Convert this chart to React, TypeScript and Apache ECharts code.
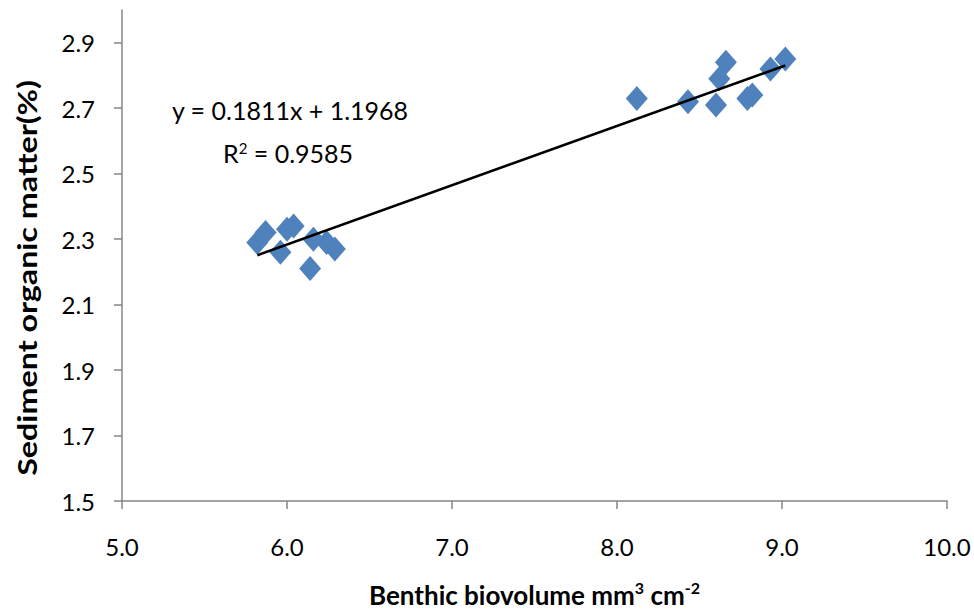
import React, { useEffect, useRef } from "react";
import * as echarts from "echarts";

const biovolume: number[] = [
  5.82, 5.87, 5.96, 6.0, 6.04, 6.14, 6.16, 6.24, 6.29,
  8.12, 8.43, 8.6, 8.62, 8.66, 8.79, 8.82, 8.93, 9.02,
];
const organicMatter: number[] = [
  2.29, 2.32, 2.26, 2.33, 2.34, 2.21, 2.3, 2.29, 2.27,
  2.73, 2.72, 2.71, 2.79, 2.84, 2.73, 2.74, 2.82, 2.85,
];
const yTickValues: number[] = [1.5, 1.7, 1.9, 2.1, 2.3, 2.5, 2.7, 2.9];
const trendSlope = 0.1811;
const trendIntercept = 1.1968;
const equationText = "y = 0.1811x + 1.1968";
const r2Text = "R{sup|2} = 0.9585";
const xTitle = "Benthic biovolume mm{sup|3} cm{sup|-2}";
const yTitle = "Sediment organic matter(%)";

const FONT = "Lato, 'Open Sans', sans-serif";

export default function App() {
  const ref = useRef<HTMLDivElement>(null);
  useEffect(() => {
    if (!ref.current) return;
    const chart = echarts.init(ref.current, undefined, { renderer: "svg" });
    const points = biovolume.map((x, i) => [x, organicMatter[i]]);
    const xMin = Math.min(...biovolume);
    const xMax = Math.max(...biovolume);
    const trend = [
      [xMin, trendSlope * xMin + trendIntercept],
      [xMax, trendSlope * xMax + trendIntercept],
    ];
    const axisColor = "#868686";
    chart.setOption({
      animation: false,
      backgroundColor: "#ffffff",
      grid: { left: 122, right: 27, top: 10, bottom: 113, outerBoundsMode: "none", containLabel: false },
      xAxis: {
        type: "value",
        min: 5,
        max: 10,
        interval: 1,
        axisLine: { show: true, onZero: false, lineStyle: { color: axisColor, width: 1.5 } },
        axisTick: { show: true, inside: false, length: 8, lineStyle: { color: axisColor, width: 1.5 } },
        splitLine: { show: false },
        axisLabel: {
          margin: 33,
          color: "#000",
          fontSize: 24,
          fontFamily: FONT,
          formatter: (v: number) => v.toFixed(1),
        },
        name: xTitle,
        nameLocation: "middle",
        nameGap: 78,
        nameTextStyle: {
          color: "#000",
          fontSize: 26,
          fontWeight: "bold",
          fontFamily: FONT,
          lineHeight: 32,
          rich: {
            sup: {
              fontSize: 16,
              fontWeight: "bold",
              fontFamily: FONT,
              color: "#000",
              verticalAlign: "top",
              lineHeight: 32,
              padding: [0, 0, 12, 0],
            },
          },
        },
      },
      yAxis: {
        type: "value",
        min: 1.5,
        max: 3.0,
        axisLine: { show: true, onZero: false, lineStyle: { color: axisColor, width: 1.5 } },
        axisTick: {
          show: true,
          inside: false,
          length: 8,
          customValues: yTickValues,
          lineStyle: { color: axisColor, width: 1.5 },
        },
        splitLine: { show: false },
        axisLabel: {
          margin: 27,
          color: "#000",
          fontSize: 24,
          fontFamily: FONT,
          customValues: yTickValues,
          formatter: (v: number) => v.toFixed(1),
        },
      },
      graphic: [
        {
          type: "text",
          x: 27,
          y: 278,
          rotation: Math.PI / 2,
          scaleX: 1.24,
          style: {
            text: yTitle,
            fill: "#000",
            font: `bold 26px ${FONT}`,
            textAlign: "center",
            textVerticalAlign: "middle",
          },
        },
        {
          type: "text",
          x: 290,
          y: 110,
          style: {
            text: equationText,
            fill: "#000",
            font: `25px ${FONT}`,
            textAlign: "center",
            textVerticalAlign: "middle",
          },
        },
        {
          type: "text",
          x: 288,
          y: 153,
          style: {
            text: r2Text,
            fill: "#000",
            font: `25px ${FONT}`,
            textAlign: "center",
            textVerticalAlign: "middle",
            rich: {
              sup: {
                fontSize: 15,
                fontFamily: FONT,
                fill: "#000",
                verticalAlign: "top",
                padding: [0, 0, 10, 0],
              },
            },
          },
        },
      ],
      series: [
        {
          type: "scatter",
          data: points,
          symbol: "diamond",
          symbolSize: [22, 25],
          itemStyle: { color: "#4F81BD", opacity: 1 },
          z: 2,
        },
        {
          type: "line",
          data: trend,
          symbol: "none",
          lineStyle: { color: "#000", width: 2.5 },
          z: 3,
        },
      ],
    });
    return () => chart.dispose();
  }, []);
  return <div ref={ref} style={{ width: 974, height: 614, position: "absolute", left: 0, top: 0 }} />;
}
